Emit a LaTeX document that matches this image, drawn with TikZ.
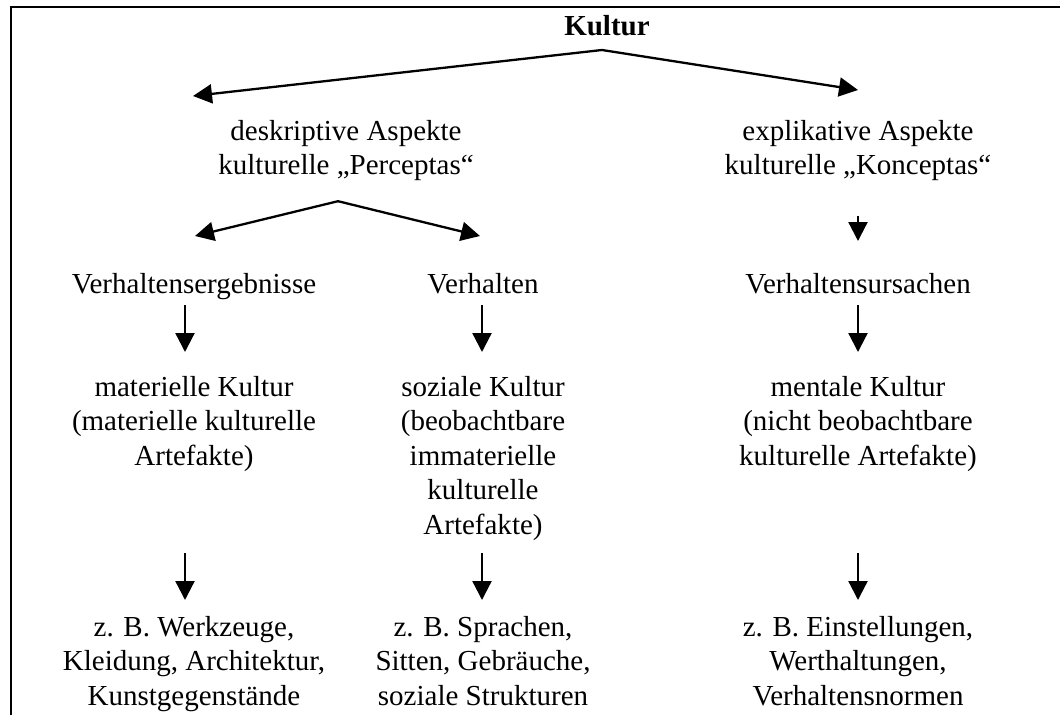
\documentclass[tikz,border=0pt]{standalone}
\usepackage{fontspec}
\setmainfont{Liberation Serif}
\usetikzlibrary{arrows.meta}

\begin{document}
\begin{tikzpicture}[
		x=1pt, y=-1pt,
		txt/.style={inner sep=0pt, align=center, font=\fontsize{29}{34.5}\selectfont},
		arr/.style={-{Triangle[length=19pt, width=19pt]}, line width=2.3pt}
		]
		\useasboundingbox (0,0) rectangle (1060,715);
		% Frame
		\draw [line width=2.3pt] (11,715) -- (11,7) -- (1060,7);
		
		% Nodes
		\node (kultur) [txt, anchor=base, font=\fontsize{29}{34.5}\selectfont\bfseries] at (607,35) {Kultur};
		\node (deskr) [txt, anchor=north] at (346,120) {deskriptive Aspekte\\kulturelle „Perceptas“};
		\node (expl) [txt, anchor=north] at (858,120) {explikative Aspekte\\kulturelle „Konceptas“};
		\node (verhE) [txt, anchor=base] at (194,293) {Verhaltensergebnisse};
		\node (verh) [txt, anchor=base] at (483,293) {Verhalten};
		\node (verhU) [txt, anchor=base] at (858,293) {Verhaltensursachen};
		\node (matK) [txt, anchor=north] at (194,376) {materielle Kultur\\(materielle kulturelle\\Artefakte)};
		\node (sozK) [txt, anchor=north] at (483,376) {soziale Kultur\\(beobachtbare\\immaterielle\\kulturelle\\Artefakte)};
		\node (menK) [txt, anchor=north] at (858,376) {mentale Kultur\\(nicht beobachtbare\\kulturelle Artefakte)};
		\node (bspM) [txt, anchor=north] at (194,616) {z. B. Werkzeuge,\\Kleidung, Architektur,\\Kunstgegenstände};
		\node (bspS) [txt, anchor=north] at (483,616) {z. B. Sprachen,\\Sitten, Gebräuche,\\soziale Strukturen};
		\node (bspK) [txt, anchor=north] at (858,616) {z. B. Einstellungen,\\Werthaltungen,\\Verhaltensnormen};
		
		% Arrow ends
		\coordinate (kTop) at ([xshift=-5pt, yshift=-15pt]kultur.base);
		\coordinate (kL) at (193,96);
		\coordinate (kR) at (858,90);
		\coordinate (dTop) at ([xshift=-8pt, yshift=-20pt]deskr.south);
		\coordinate (dL) at (195,236);
		\coordinate (dR) at (480,236);
		
		% Arrows
		\draw [arr] (kTop) -- (kL);
		\draw [arr] (kTop) -- (kR);
		\draw [arr] (dTop) -- (dL);
		\draw [arr] (dTop) -- (dR);
		\draw [arr] (expl.south |- 0,216) -- (verhU.north |- 0,241);
		\draw [arr] ([xshift=-9pt]verhE.base |- 0,305) -- ([xshift=-9pt]matK.north |- 0,352);
		\draw [arr] ([xshift=-1pt]verh.base |- 0,305) -- ([xshift=-1pt]sozK.north |- 0,352);
		\draw [arr] (verhU.base |- 0,305) -- (menK.north |- 0,352);
		\draw [arr] ([xshift=-9pt]matK.north |- 0,553) -- ([xshift=-9pt]bspM.north |- 0,600);
		\draw [arr] ([xshift=-1pt]sozK.north |- 0,553) -- ([xshift=-1pt]bspS.north |- 0,600);
		\draw [arr] (menK.north |- 0,553) -- (bspK.north |- 0,600);
		
	\end{tikzpicture}
\end{document}
